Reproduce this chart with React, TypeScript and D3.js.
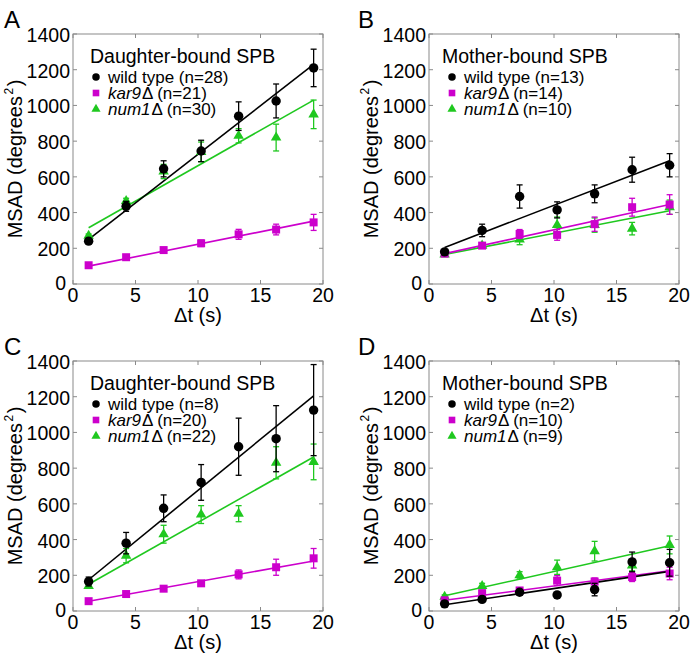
import React from "react";
import * as d3 from "d3";

// ---- data ----
const TIMES = [1.25, 4.25, 7.25, 10.25, 13.25, 16.25, 19.25];
const X_TICKS = [0, 5, 10, 15, 20];
const Y_TICKS = [0, 200, 400, 600, 800, 1000, 1200, 1400];
const PANEL_LETTERS = ["A", "B", "C", "D"];
const PANEL_TITLES = ["Daughter-bound SPB", "Mother-bound SPB", "Daughter-bound SPB", "Mother-bound SPB"];
const N_WT = [28, 13, 8, 2];
const N_KAR9 = [21, 14, 20, 10];
const N_NUM1 = [30, 10, 22, 9];

const WT_MEAN = [
  [240, 435, 645, 745, 940, 1025, 1210],
  [180, 300, 490, 415, 505, 640, 665],
  [165, 380, 575, 720, 920, 965, 1125],
  [40, 65, 105, 90, 120, 275, 270],
];
const WT_ERR = [
  [12, 28, 45, 60, 80, 95, 105],
  [12, 35, 65, 45, 50, 70, 65],
  [25, 60, 75, 100, 160, 185, 255],
  [6, 8, 15, 12, 35, 55, 75],
];
const WT_FIT = [[250, 1230], [205, 690], [175, 1205], [35, 222]];

const KAR9_MEAN = [
  [105, 150, 190, 228, 278, 305, 345],
  [170, 215, 280, 275, 335, 430, 445],
  [55, 95, 125, 155, 205, 245, 295],
  [60, 100, 115, 170, 165, 190, 210],
];
const KAR9_ERR = [
  [8, 8, 10, 18, 28, 30, 45],
  [15, 15, 25, 30, 40, 50, 55],
  [5, 6, 8, 12, 25, 45, 55],
  [10, 10, 15, 28, 20, 25, 35],
];
const KAR9_FIT = [[100, 352], [170, 445], [55, 280], [60, 225]];

const NUM1_MEAN = [
  [270, 465, 630, 740, 830, 820, 950],
  [165, 215, 250, 330, 330, 310, 430],
  [140, 310, 430, 540, 545, 830, 835],
  [80, 140, 200, 245, 335, 255, 370],
];
const NUM1_ERR = [
  [10, 15, 40, 55, 40, 75, 80],
  [10, 15, 30, 45, 40, 35, 40],
  [10, 40, 50, 50, 45, 90, 100],
  [10, 15, 20, 40, 55, 30, 50],
];
const NUM1_FIT = [[315, 1030], [165, 410], [150, 862], [85, 365]];

// ---- style ----
const W = 691;
const H = 656;
const PLOT = 250;
const ORIGINS = [
  [73, 34],
  [429, 34],
  [73, 361],
  [429, 361],
];
const TITLE_DX = [17, 13, 17, 13];
const BLACK = "#000000";
const MAGENTA = "#cc00cc";
const GREEN = "#1fc81f";
const FRAME = "#8a8a8a";
const FONT_NAME = "Liberation Sans";
const FONT = "'Liberation Sans', Arial, Helvetica, sans-serif";

let measureCtx: CanvasRenderingContext2D | null = null;
function textWidth(txt: string, size: number, italic = false): number {
  if (typeof document !== "undefined") {
    if (!measureCtx) measureCtx = document.createElement("canvas").getContext("2d");
    if (measureCtx) {
      measureCtx.font = `${italic ? "italic " : ""}${size}px '${FONT_NAME}', Arial, sans-serif`;
      return measureCtx.measureText(txt).width;
    }
  }
  return txt.length * size * 0.55;
}

type Series = {
  mean: number[];
  err: number[];
  fit: number[];
  color: string;
  shape: d3.SymbolType;
  size: number;
  legendSize: number;
};

function Marker({ shape, size, color, x, y }: { shape: d3.SymbolType; size: number; color: string; x: number; y: number }) {
  const path = d3.symbol().type(shape).size(size)() || "";
  return <path d={path} transform={`translate(${x},${y})`} fill={color} />;
}

function Panel({ idx }: { idx: number }) {
  const [ox, oy] = ORIGINS[idx];
  const x = d3.scaleLinear().domain([0, 20]).range([ox, ox + PLOT]);
  const y = d3.scaleLinear().domain([0, 1400]).range([oy + PLOT, oy]);
  const series: Series[] = [
    { mean: NUM1_MEAN[idx], err: NUM1_ERR[idx], fit: NUM1_FIT[idx], color: GREEN, shape: d3.symbolTriangle, size: 48, legendSize: 36 },
    { mean: KAR9_MEAN[idx], err: KAR9_ERR[idx], fit: KAR9_FIT[idx], color: MAGENTA, shape: d3.symbolSquare, size: 64, legendSize: 44 },
    { mean: WT_MEAN[idx], err: WT_ERR[idx], fit: WT_FIT[idx], color: BLACK, shape: d3.symbolCircle, size: 70, legendSize: 44 },
  ];
  const line = d3
    .line<[number, number]>()
    .x((d) => x(d[0]))
    .y((d) => y(d[1]));
  const tickLen = 4;
  const legend = [
    { s: series[2], italic: "", rest: `wild type (n=${N_WT[idx]})` },
    { s: series[1], italic: "kar9", rest: `Δ (n=${N_KAR9[idx]})` },
    { s: series[0], italic: "num1", rest: `Δ (n=${N_NUM1[idx]})` },
  ];
  const cx = ox + PLOT / 2;
  const cy = oy + PLOT / 2;
  const yMain = "MSAD (degrees";
  const wMain = textWidth(yMain, 20);
  const wSup = textWidth("2", 12);
  const wClose = textWidth(")", 20);
  const gap = 1.5;
  const yStart = -(wMain + wSup + wClose + 2 * gap) / 2;
  return (
    <g>
      <text x={idx % 2 === 0 ? 4 : 358} y={oy - 6} fontSize={24} fontFamily={FONT} fill="#000">
        {PANEL_LETTERS[idx]}
      </text>
      {/* frame */}
      <rect x={ox} y={oy} width={PLOT} height={PLOT} fill="none" stroke={FRAME} strokeWidth={1} />
      {X_TICKS.map((t) => (
        <g key={"x" + t}>
          <line x1={x(t)} x2={x(t)} y1={oy + PLOT} y2={oy + PLOT - tickLen} stroke={FRAME} />
          <line x1={x(t)} x2={x(t)} y1={oy} y2={oy + tickLen} stroke={FRAME} />
          <text x={x(t)} y={oy + PLOT + 18} fontSize={19.5} fontFamily={FONT} textAnchor="middle" fill="#000">
            {t}
          </text>
        </g>
      ))}
      {Y_TICKS.map((t) => (
        <g key={"y" + t}>
          <line x1={ox} x2={ox + tickLen} y1={y(t)} y2={y(t)} stroke={FRAME} />
          <line x1={ox + PLOT} x2={ox + PLOT - tickLen} y1={y(t)} y2={y(t)} stroke={FRAME} />
          <text
            x={ox - (t === 0 ? 7 : 3)}
            y={y(t) + (t === 0 ? 6 : 8)}
            fontSize={19.5}
            fontFamily={FONT}
            textAnchor="end"
            fill="#000"
          >
            {t}
          </text>
        </g>
      ))}
      <text x={cx} y={oy + PLOT + 38} fontSize={20} fontFamily={FONT} textAnchor="middle" fill="#000">
        Δt (s)
      </text>
      <g transform={`translate(${ox - 51},${cy}) rotate(-90)`}>
        <text x={yStart} y={0} fontSize={20} fontFamily={FONT} fill="#000">
          {yMain}
        </text>
        <text x={yStart + wMain + gap} y={-9} fontSize={12} fontFamily={FONT} fill="#000">
          2
        </text>
        <text x={yStart + wMain + wSup + 2 * gap} y={0} fontSize={20} fontFamily={FONT} fill="#000">
          )
        </text>
      </g>
      {/* fit lines */}
      {series.map((s, i) => (
        <path
          key={"f" + i}
          d={line([
            [TIMES[0], s.fit[0]],
            [TIMES[TIMES.length - 1], s.fit[1]],
          ]) || ""}
          stroke={s.color}
          strokeWidth={1.6}
          fill="none"
        />
      ))}
      {/* error bars and markers */}
      {series.map((s, i) => (
        <g key={"s" + i}>
          {s.mean.map((m, j) => {
            const px = x(TIMES[j]);
            const y1 = y(m + s.err[j]);
            const y2 = y(m - s.err[j]);
            return (
              <g key={j}>
                <line x1={px} x2={px} y1={y1} y2={y2} stroke={s.color} strokeWidth={1.3} />
                <line x1={px - 3} x2={px + 3} y1={y1} y2={y1} stroke={s.color} strokeWidth={1.3} />
                <line x1={px - 3} x2={px + 3} y1={y2} y2={y2} stroke={s.color} strokeWidth={1.3} />
                <Marker shape={s.shape} size={s.size} color={s.color} x={px} y={y(m)} />
              </g>
            );
          })}
        </g>
      ))}
      {/* legend */}
      <text x={ox + TITLE_DX[idx]} y={oy + 29} fontSize={19.5} fontFamily={FONT} fill="#000">
        {PANEL_TITLES[idx]}
      </text>
      {legend.map((l, k) => {
        const tx = ox + 35;
        const ty = oy + 49 + k * 16;
        const wi = l.italic ? textWidth(l.italic, 17, true) + 1 : 0;
        return (
          <g key={"l" + k}>
            <Marker shape={l.s.shape} size={l.s.legendSize} color={l.s.color} x={ox + 23} y={oy + 43 + k * 16} />
            {l.italic ? (
              <text x={tx} y={ty} fontSize={17} fontFamily={FONT} fontStyle="italic" fill="#000">
                {l.italic}
              </text>
            ) : null}
            <text x={tx + wi} y={ty} fontSize={17} fontFamily={FONT} fill="#000">
              {l.rest}
            </text>
          </g>
        );
      })}
    </g>
  );
}

export default function App() {
  return (
    <svg
      width={W}
      height={H}
      viewBox={`0 0 ${W} ${H}`}
      style={{ position: "absolute", left: 0, top: 0, background: "#fff" }}
    >
      <rect x={0} y={0} width={W} height={H} fill="#fff" />
      {PANEL_LETTERS.map((_, i) => (
        <Panel key={i} idx={i} />
      ))}
    </svg>
  );
}
